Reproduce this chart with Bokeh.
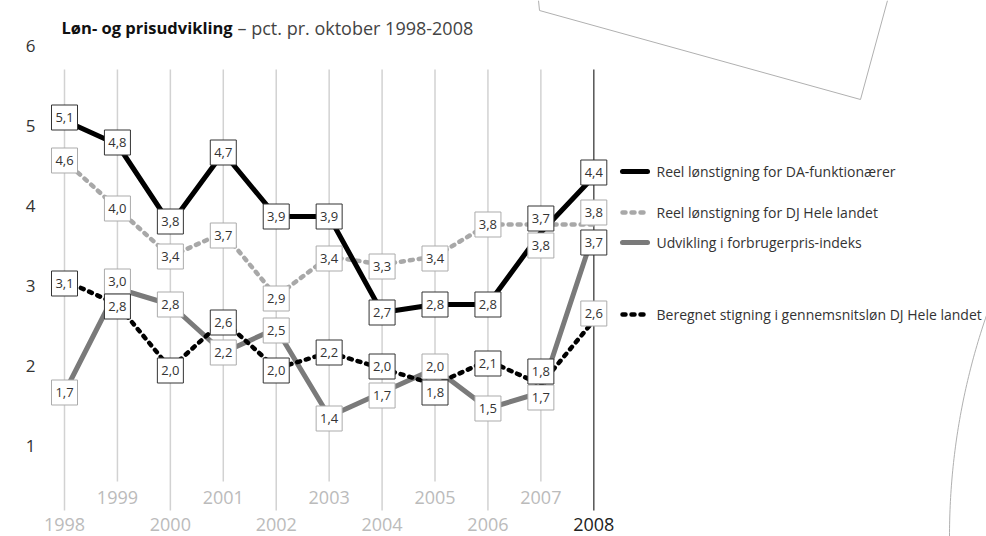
import numpy as np
from bokeh.plotting import figure
from bokeh.models import Range1d
from bokeh.embed import file_html
from bokeh.resources import INLINE
from bokeh.core.properties import value

# ---------------- data ----------------
years = [1998, 1999, 2000, 2001, 2002, 2003, 2004, 2005, 2006, 2007, 2008]
da_funktionaerer = [5.1, 4.8, 3.8, 4.7, 3.9, 3.9, 2.7, 2.8, 2.8, 3.7, 4.4]
dj_hele_landet = [4.6, 4.0, 3.4, 3.7, 2.9, 3.4, 3.3, 3.4, 3.8, 3.8, 3.8]
forbrugerpris = [1.7, 3.0, 2.8, 2.2, 2.5, 1.4, 1.7, 2.0, 1.5, 1.7, 3.7]
beregnet_dj = [3.1, 2.8, 2.0, 2.6, 2.0, 2.2, 2.0, 1.8, 2.1, 1.8, 2.6]
y_ticks = [1, 2, 3, 4, 5, 6]
series_names = [
    "Reel lønstigning for DA-funktionærer",
    "Reel lønstigning for DJ Hele landet",
    "Udvikling i forbrugerpris-indeks",
    "Beregnet stigning i gennemsnitsløn DJ Hele landet",
]
title_bold = "Løn- og prisudvikling"
title_rest = "– pct. pr. oktober 1998-2008"

# ---------------- layout / style ----------------
W, H = 986, 536
X0_PX, X_STEP = 64.0, 52.93     # canvas px of first year, px per year
Y0_PX, Y_STEP = 528.0, 80.0     # canvas px of value 0, px per unit
FONT = "Open Sans"
DARK_BORDER = "#333333"
LIGHT_BORDER = "#ababab"

# label box nudges in px (positive = down) to avoid overlaps
da_nudge = [-3, -2, -3, 0, 0, 0, 0, 0, 0, -14, -4]
dj_nudge = [0, 0, 0, 3, 2, 2, 2, 2, 0, 21, -12]
cpi_nudge = [0, -7, 0, 0, 2, 2, 3, -2, 0, 5, 10]
ber_nudge = [3, 2, 2, 2, 2, 0, -2, 8, 3, -13, -7]

x_start = years[0] - X0_PX / X_STEP
x_end = x_start + W / X_STEP
y_start = (Y0_PX - H) / Y_STEP
y_end = Y0_PX / Y_STEP

p = figure(width=W, height=H, x_range=Range1d(x_start, x_end),
           y_range=Range1d(y_start, y_end), output_backend="svg",
           toolbar_location=None, min_border=0, x_axis_location=None,
           y_axis_location=None, outline_line_color=None,
           background_fill_color="white", border_fill_color="white")
p.grid.visible = False
p.extra_x_ranges = {"px": Range1d(0, W)}
p.extra_y_ranges = {"px": Range1d(H, 0)}

# decorative outlines
p.line(x=[538, 539, 860, 887], y=[0, 10, 99, 0], x_range_name="px",
       y_range_name="px", line_color="#b0b0b0", line_width=1)
cx, cy, R = 1628.0, 536.0, 679.0
ay = np.linspace(306, 536, 60)
ax = cx - np.sqrt(R ** 2 - (cy - ay) ** 2)
p.line(x=ax, y=ay, x_range_name="px", y_range_name="px",
       line_color="#b0b0b0", line_width=1)

# vertical grid lines
grid_bottom = [510 if (y - years[0]) % 2 == 0 else 481 for y in years]
grid_color = ["#d2d2d2"] * (len(years) - 1) + ["#555555"]
p.segment(x0=years, x1=years, y0=[69] * len(years), y1=grid_bottom,
          y_range_name="px", line_color=grid_color, line_width=1.5)

# series lines
p.line(years, dj_hele_landet, line_color="#a8a8a8", line_width=4.5,
       line_dash="3 6", line_cap="round", line_join="round")
p.line(years, forbrugerpris, line_color="#7a7a7a", line_width=5,
       line_join="round")
p.line(years, beregnet_dj, line_color="#000000", line_width=4.5,
       line_dash="3 6", line_cap="round", line_join="round")
p.line(years, da_funktionaerer, line_color="#000000", line_width=5,
       line_join="round")

# value label boxes
lx, ly, lt, lb = [], [], [], []
series = [
    (da_funktionaerer, da_nudge, [DARK_BORDER] * 11),
    (dj_hele_landet, dj_nudge, [LIGHT_BORDER] * 11),
    (forbrugerpris, cpi_nudge, [LIGHT_BORDER] * 10 + [DARK_BORDER]),
    (beregnet_dj, ber_nudge, [DARK_BORDER] * 10 + [LIGHT_BORDER]),
]
for vals, nudge, borders in series:
    for yr, v, n, b in zip(years, vals, nudge, borders):
        lx.append(yr)
        ly.append(v - n / Y_STEP)
        lt.append(f"{v:.1f}".replace(".", ","))
        lb.append(b)
p.rect(x=lx, y=ly, width=26, height=25, width_units="screen",
       height_units="screen", fill_color="white", line_color=lb, line_width=1)
p.text(x=lx, y=ly, text=lt, text_align="center", text_baseline="middle",
       text_font=value(FONT), text_font_size="13px", text_color="#333333")

# y tick labels
p.text(x=[30] * len(y_ticks), y=y_ticks, text=[str(t) for t in y_ticks],
       x_range_name="px", y_offset=-3, text_align="center",
       text_baseline="middle", text_font=value(FONT), text_font_size="17px",
       text_color="#333333")

# x labels (two staggered rows)
xl_y = [524 if (y - years[0]) % 2 == 0 else 497 for y in years]
xl_c = ["#bbbbbb"] * (len(years) - 1) + ["#222222"]
p.text(x=years, y=xl_y, text=[str(y) for y in years], y_range_name="px",
       text_align="center", text_baseline="middle", text_font=value(FONT),
       text_font_size="18px", text_color=xl_c)

# title
p.text(x=[61], y=[27], text=[title_bold], x_range_name="px", y_range_name="px",
       text_align="left", text_baseline="middle", text_font=value(FONT),
       text_font_style="bold", text_font_size="16.5px", text_color="#111111")
p.text(x=[237], y=[27], text=[title_rest], x_range_name="px",
       y_range_name="px", text_align="left", text_baseline="middle",
       text_font=value(FONT), text_font_size="18px", text_color="#444444")

# legend
leg_y = [171, 212, 242, 314]
leg_styles = [
    dict(line_color="#000000", line_width=5),
    dict(line_color="#a8a8a8", line_width=4.5, line_dash="3 6"),
    dict(line_color="#7a7a7a", line_width=5),
    dict(line_color="#000000", line_width=4.5, line_dash="3 6"),
]
for yy, st in zip(leg_y, leg_styles):
    p.line(x=[622, 647], y=[yy, yy], x_range_name="px", y_range_name="px",
           line_cap="round", **st)
p.text(x=[656] * 4, y=leg_y, text=series_names, x_range_name="px",
       y_range_name="px", text_align="left", text_baseline="middle",
       text_font=value(FONT), text_font_size="14px", text_color="#333333")

open("out.html", "w").write(file_html(p, INLINE))
